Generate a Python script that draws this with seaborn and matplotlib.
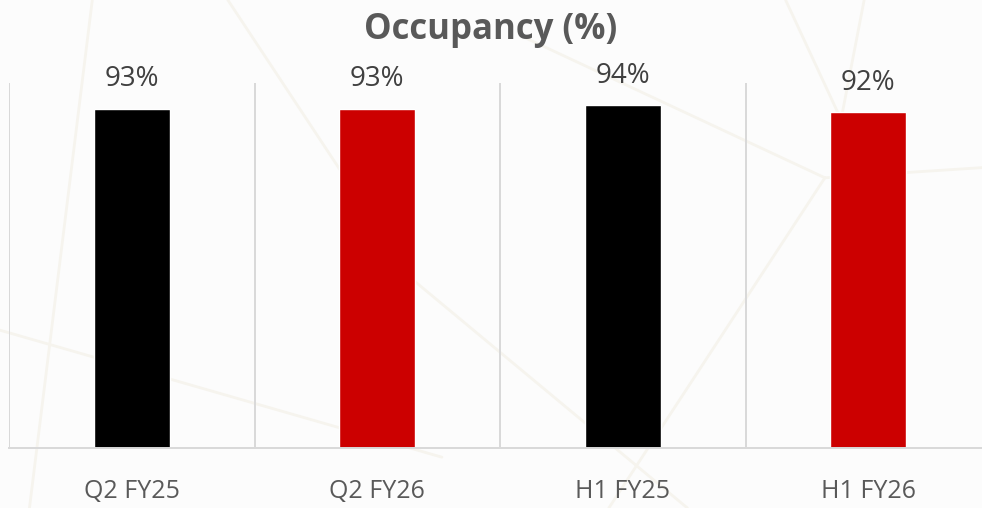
import matplotlib
matplotlib.use("Agg")
import matplotlib.pyplot as plt
import seaborn as sns
import pandas as pd

# Chart data
categories = ["Q2 FY25", "Q2 FY26", "H1 FY25", "H1 FY26"]
occupancy = [93, 93, 94, 92]
bar_colors = ["#000000", "#cc0000", "#000000", "#cc0000"]

df = pd.DataFrame({"period": categories, "occupancy": occupancy})

sns.set_style("white")
plt.rcParams["font.family"] = ["Open Sans", "DejaVu Sans"]

fig = plt.figure(figsize=(9.82, 5.08), dpi=100)
fig.patch.set_facecolor("#fcfcfc")

# faint decorative background lines (figure fraction)
bg_lines = [((0.094, 1.0), (0.03, 0.0)),
            ((0.232, 1.0), (0.42, 0.45)),
            ((0.42, 0.45), (0.70, 0.0)),
            ((0.53, 0.93), (0.84, 0.65)),
            ((0.84, 0.65), (1.0, 0.67)),
            ((0.80, 1.0), (0.86, 0.75)),
            ((0.88, 1.0), (0.85, 0.70)),
            ((0.84, 0.65), (0.62, 0.0)),
            ((0.0, 0.35), (0.45, 0.10))]
for (x0, y0), (x1, y1) in bg_lines:
    fig.add_artist(plt.Line2D([x0, x1], [y0, y1], transform=fig.transFigure,
                              color="#f6f4ee", lw=2, zorder=0))

ax = fig.add_axes([9 / 982, 60 / 508, 982 / 982, 365 / 508])
ax.set_facecolor("none")

sns.barplot(data=df, x="period", y="occupancy", hue="period",
            palette=bar_colors, width=0.31, legend=False, ax=ax,
            saturation=1)

ax.set_xlim(-0.5, 3.5)
ax.set_ylim(0, 100)

# separators between categories
ax.set_xticks([-0.5, 0.5, 1.5, 2.5], minor=True)
ax.grid(axis="x", which="minor", color="#d9d9d9", lw=1.4)
ax.tick_params(axis="x", which="both", length=0)
ax.set_axisbelow(True)

for c in ax.containers:
    ax.bar_label(c, labels=[f"{v:.0f}%" for v in c.datavalues],
                 padding=11, fontsize=20, color="#404040")

ax.set_xticks(range(len(categories)))
ax.set_xticklabels(categories, fontsize=18, color="#595959")
ax.tick_params(axis="x", pad=22)
ax.set_yticks([])
ax.set_xlabel("")
ax.set_ylabel("")

for s in ["top", "right", "left"]:
    ax.spines[s].set_visible(False)
ax.spines["bottom"].set_color("#d9d9d9")
ax.spines["bottom"].set_linewidth(1.4)

fig.text(0.5, 0.94, "Occupancy (%)", ha="center", va="center",
         fontsize=25, fontweight="bold", color="#595959")

fig.savefig("out.png", dpi=100, facecolor=fig.get_facecolor())
